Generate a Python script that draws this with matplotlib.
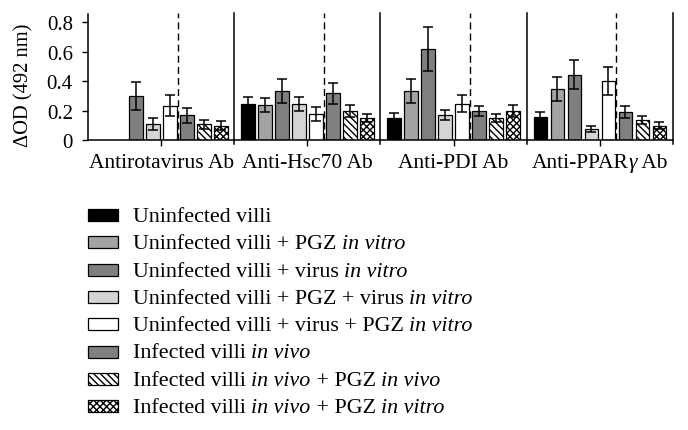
import numpy as np
import matplotlib
matplotlib.use("Agg")
import matplotlib.pyplot as plt
from matplotlib.patches import Rectangle
from matplotlib.transforms import IdentityTransform

plt.rcParams['font.family'] = ['Liberation Serif', 'DejaVu Serif']
plt.rcParams['hatch.linewidth'] = 1.0

# antibodies (groups); each label is a list of (text, italic) pieces
groups = [
    [('Antirotavirus Ab', False)],
    [('Anti-Hsc70 Ab', False)],
    [('Anti-PDI Ab', False)],
    [('Anti-PPAR', False), ('γ', True), (' Ab', False)],
]
conditions = [
    [('Uninfected villi', False)],
    [('Uninfected villi + PGZ ', False), ('in vitro', True)],
    [('Uninfected villi + virus ', False), ('in vitro', True)],
    [('Uninfected villi + PGZ + virus ', False), ('in vitro', True)],
    [('Uninfected villi + virus + PGZ ', False), ('in vitro', True)],
    [('Infected villi ', False), ('in vivo', True)],
    [('Infected villi ', False), ('in vivo', True), (' + PGZ ', False), ('in vivo', True)],
    [('Infected villi ', False), ('in vivo', True), (' + PGZ ', False), ('in vitro', True)],
]

# mean delta OD, rows = groups, cols = conditions (nan = not measured)
means = [
    [np.nan, np.nan, 0.30, 0.11, 0.235, 0.17, 0.11, 0.10],
    [0.247, 0.24, 0.336, 0.247, 0.18, 0.32, 0.20, 0.15],
    [0.154, 0.336, 0.618, 0.174, 0.25, 0.20, 0.152, 0.20],
    [0.16, 0.348, 0.445, 0.075, 0.40, 0.19, 0.136, 0.10],
]
errors = [
    [np.nan, np.nan, 0.095, 0.04, 0.07, 0.05, 0.03, 0.03],
    [0.05, 0.05, 0.08, 0.05, 0.045, 0.07, 0.04, 0.028],
    [0.03, 0.08, 0.15, 0.035, 0.055, 0.035, 0.03, 0.04],
    [0.03, 0.08, 0.10, 0.02, 0.095, 0.04, 0.027, 0.022],
]

colors = ['#000000', '#a3a3a3', '#7f7f7f', '#d4d4d4', '#ffffff', '#808080', '#ffffff', '#ffffff']
hatches = [None, None, None, None, None, None, '\\\\\\\\\\', 'xxxxx']

W, H = 688, 431
fig = plt.figure(figsize=(W / 100, H / 100), dpi=100)
ax = fig.add_axes([0.128, 0.6717, 0.850, 0.2935])

gw = 8.6       # width of one antibody group
first = 0.81   # centre of first bar inside a group
bw = 0.8

for g in range(len(groups)):
    for i in range(len(conditions)):
        m = means[g][i]
        if np.isnan(m):
            continue
        x = g * gw + first + i
        ax.bar(x, m, width=bw, color=colors[i], edgecolor='black', linewidth=0.9,
               hatch=hatches[i], zorder=2)
        ax.errorbar(x, m, yerr=errors[g][i], color='black', capsize=3.5,
                    elinewidth=1.1, capthick=1.1, zorder=3)
    # dashed line between in vitro and in vivo bars
    ax.plot([g * gw + first + 4.47] * 2, [0, 0.86], color='black', lw=1.0,
            dashes=(5, 3), zorder=1, clip_on=False)
    # solid separator at the right of each group
    ax.plot([(g + 1) * gw] * 2, [-0.025, 0.86], color='black', lw=1.1,
            zorder=4, clip_on=False)

ax.set_xlim(0, len(groups) * gw)
ax.set_ylim(0, 0.855)
ax.set_xticks([g * gw + gw / 2 for g in range(len(groups))])
ax.set_xticklabels([])
ax.set_yticks([0, 0.2, 0.4, 0.6, 0.8])
ax.set_yticklabels(['0', '0.2', '0.4', '0.6', '0.8'], fontsize=15)
ax.tick_params(axis='both', direction='out', length=4, width=1)
ax.tick_params(axis='y', pad=7)
ax.set_ylabel('ΔOD (492 nm)', fontsize=14.8)
ax.yaxis.set_label_coords(-0.094, 0.447)
for s in ['top', 'right']:
    ax.spines[s].set_visible(False)
ax.spines['left'].set_linewidth(1.1)
ax.spines['bottom'].set_linewidth(1.1)

fig.canvas.draw()
renderer = fig.canvas.get_renderer()
px = IdentityTransform()


def text_width(s, italic, fs):
    t = fig.text(0, 0, s, fontsize=fs, style='italic' if italic else 'normal', transform=px)
    w = t.get_window_extent(renderer).width
    t.remove()
    return w


def piece_width(s, italic, fs):
    # measure including leading/trailing spaces
    return text_width('|' + s + '|', italic, fs) - text_width('||', italic, fs)


def draw_pieces(x, y_img, pieces, fs, center=False):
    total = sum(piece_width(s, it, fs) for s, it in pieces)
    if center:
        x = x - total / 2
    y = H - y_img
    for s, it in pieces:
        fig.text(x, y, s, fontsize=fs, style='italic' if it else 'normal',
                 va='baseline', ha='left', transform=px)
        x += piece_width(s, it, fs)


# group labels under the axis
for g, pieces in enumerate(groups):
    xc = ax.transData.transform((g * gw + gw / 2, 0))[0]
    draw_pieces(xc, 168, pieces, 15.5, center=True)

# legend drawn by hand
row0, step = 216, 27.3
for i, pieces in enumerate(conditions):
    yc = row0 + i * step
    fig.patches.append(Rectangle((88, H - yc - 6), 30, 12, transform=px,
                                 facecolor=colors[i], edgecolor='black', linewidth=0.9,
                                 hatch=hatches[i], figure=fig))
    draw_pieces(133, yc + 6, pieces, 15.8)

fig.savefig('out.png', dpi=100)
